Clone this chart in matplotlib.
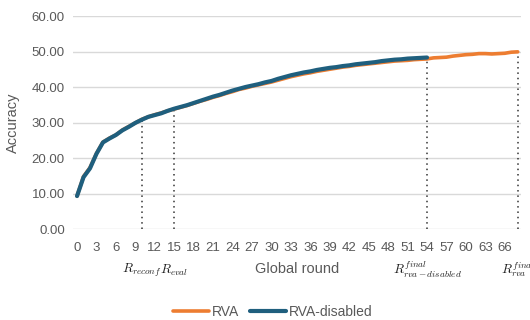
import matplotlib

matplotlib.use("Agg")
import matplotlib.pyplot as plt

plt.rcParams["font.family"] = ["Liberation Sans", "DejaVu Sans"]
plt.rcParams["mathtext.fontset"] = "cm"

# accuracy per global round
rva = [
    9.4, 14.9, 17.4, 21.4, 24.6, 25.7, 26.6, 28.0, 29.0, 30.0,
    31.0, 31.7, 32.3, 32.8, 33.4, 33.9, 34.4, 34.9, 35.5, 36.1,
    36.6, 37.2, 37.7, 38.3, 38.8, 39.4, 39.8, 40.3, 40.7, 41.1,
    41.5, 42.0, 42.5, 43.0, 43.4, 43.8, 44.1, 44.5, 44.8, 45.1,
    45.4, 45.7, 45.9, 46.2, 46.4, 46.6, 46.8, 47.0, 47.2, 47.4,
    47.5, 47.6, 47.8, 47.9, 48.0, 48.3, 48.4, 48.5, 48.8, 49.0,
    49.2, 49.3, 49.5, 49.5, 49.4, 49.5, 49.6, 49.9, 50.0,
]
rva_disabled = [
    9.4, 14.7, 17.2, 21.3, 24.5, 25.6, 26.6, 27.9, 28.9, 30.0,
    30.9, 31.7, 32.2, 32.7, 33.4, 34.0, 34.5, 35.0, 35.6, 36.2,
    36.8, 37.4, 37.9, 38.5, 39.1, 39.6, 40.1, 40.5, 40.9, 41.4,
    41.8, 42.4, 42.9, 43.4, 43.8, 44.2, 44.5, 44.9, 45.2, 45.5,
    45.7, 46.0, 46.2, 46.5, 46.7, 46.9, 47.1, 47.4, 47.6, 47.8,
    47.9, 48.1, 48.2, 48.3, 48.4,
]

# marker rounds and their labels
mark_rounds = [10, 15, 54, 68]
mark_labels = [
    r"$R_{reconf}$",
    r"$R_{eval}$",
    r"$R_{rva-disabled}^{final}$",
    r"$R_{rva}^{final}$",
]
mark_series = [rva_disabled, rva_disabled, rva_disabled, rva]

orange = "#ed7d31"
blue = "#1f5f7e"
grey = "#595959"

fig = plt.figure(figsize=(5.3, 3.2), dpi=100)
ax = fig.add_axes([0.138, 0.283, 0.845, 0.666])

ax.plot(range(len(rva)), rva, color=orange, lw=2.6, label="RVA", zorder=3,
        solid_capstyle="round", solid_joinstyle="round")
ax.plot(
    range(len(rva_disabled)),
    rva_disabled,
    color=blue,
    lw=3.0,
    label="RVA-disabled",
    zorder=4,
    solid_capstyle="round",
    solid_joinstyle="round",
)

for r, lab, s in zip(mark_rounds, mark_labels, mark_series):
    ax.plot([r, r], [0, s[r]], color="#333333", ls=(0, (1, 2.5)), lw=1.1, zorder=2)
    ax.text(
        r, -0.19, lab, transform=ax.get_xaxis_transform(),
        ha="center", va="center", fontsize=9.5, color="#222222",
    )

ax.set_xlim(-0.6, 68.5)
ax.set_ylim(0, 60)
ax.set_xticks(range(0, 67, 3))
ax.set_yticks(range(0, 61, 10))
ax.set_yticklabels([f"{v:.2f}" for v in range(0, 61, 10)])
ax.tick_params(length=0, labelsize=9.5, labelcolor=grey, pad=9)
ax.tick_params(axis="y", pad=6)
ax.grid(axis="y", color="#d9d9d9", lw=1)
ax.set_axisbelow(True)
for sp in ax.spines.values():
    sp.set_visible(False)

ax.set_ylabel("Accuracy", fontsize=10.5, color=grey, labelpad=8)
ax.set_xlabel("Global round", fontsize=10.5, color=grey, labelpad=6)

fig.legend(
    loc="lower center",
    bbox_to_anchor=(0.515, -0.035),
    ncol=2,
    frameon=False,
    fontsize=10,
    labelcolor=grey,
    handlelength=2.6,
    handletextpad=0.2,
    columnspacing=0.8,
)

fig.savefig("out.png", dpi=100)
